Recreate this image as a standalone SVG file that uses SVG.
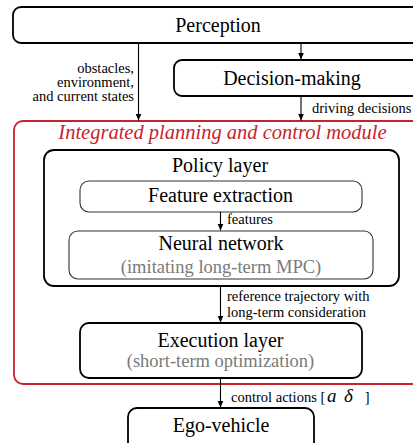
<svg xmlns="http://www.w3.org/2000/svg" width="413" height="443" viewBox="0 0 413 443">
<style>
.box{fill:#fff;stroke:#000;stroke-width:1.8}
.inner{fill:#fff;stroke:#333;stroke-width:1.1}
text{font-family:'Liberation Serif','DejaVu Serif','Times New Roman',serif}
.t{font-size:20px;fill:#000;text-anchor:middle}
.sub{font-size:18.5px;fill:#7a7a7a;text-anchor:middle}
.lbl{font-size:14.5px;fill:#000}
.c{stroke:#000;stroke-width:1.1;fill:none;marker-end:url(#ah)}
</style>
<defs>
<marker id="ah" markerWidth="8" markerHeight="8" refX="7" refY="3" orient="auto" markerUnits="userSpaceOnUse" viewBox="0 0 8 6">
<path d="M0,0 L7,3 L0,6 z" fill="#000"/>
</marker>
</defs>
<rect width="413" height="443" fill="#fff"/>
<g id="module">
<rect x="14" y="121" width="420" height="263" rx="9" fill="none" stroke="#c8232c" stroke-width="1.8"/>
<text x="222.5" y="139" font-family="Liberation Serif, serif" font-size="20.5" font-style="italic" fill="#c8232c" text-anchor="middle">Integrated planning and control module</text>
</g>
<g id="perception">
<rect class="box" x="13" y="7" width="420" height="36" rx="8"/>
<text class="t" font-family="Liberation Serif, serif" x="218" y="32">Perception</text>
</g>
<g id="decision">
<rect class="box" x="174" y="60" width="260" height="36" rx="8"/>
<text class="t" font-family="Liberation Serif, serif" x="292" y="85">Decision-making</text>
</g>
<g id="policy">
<rect class="box" x="44" y="150" width="355" height="136" rx="10"/>
<text class="t" font-family="Liberation Serif, serif" x="220" y="172">Policy layer</text>
</g>
<g id="feature">
<rect class="inner" x="80" y="181" width="282" height="31" rx="9"/>
<text class="t" font-family="Liberation Serif, serif" x="220.5" y="202">Feature extraction</text>
</g>
<g id="neural">
<rect class="inner" x="69" y="231" width="304" height="48" rx="9"/>
<text class="t" font-family="Liberation Serif, serif" x="221" y="250">Neural network</text>
<text class="sub" font-family="Liberation Serif, serif" x="221" y="273">(imitating long-term MPC)</text>
</g>
<g id="execution">
<rect class="box" x="80" y="323" width="282" height="55" rx="9"/>
<text class="t" font-family="Liberation Serif, serif" x="220.5" y="347">Execution layer</text>
<text class="sub" font-family="Liberation Serif, serif" x="220.5" y="367">(short-term optimization)</text>
</g>
<g id="ego">
<rect class="box" x="128" y="408" width="186" height="45" rx="9"/>
<text class="t" font-family="Liberation Serif, serif" x="221" y="432">Ego-vehicle</text>
</g>
<g id="connectors">
<line class="c" x1="138.5" y1="43" x2="138.5" y2="120.5"/>
<line class="c" x1="301" y1="43" x2="301" y2="59.5"/>
<line class="c" x1="301" y1="96" x2="301" y2="120.5"/>
<line class="c" x1="220.5" y1="212" x2="220.5" y2="230.5"/>
<line class="c" x1="220.5" y1="286" x2="220.5" y2="322.5"/>
<line class="c" x1="220.5" y1="378" x2="220.5" y2="407.5"/>
</g>
<g id="labels" font-family="Liberation Serif, serif">
<text class="lbl" font-size="14" text-anchor="end" x="134"><tspan x="134" y="73">obstacles,</tspan><tspan x="134" y="87">environment,</tspan><tspan x="134" y="101">and current states</tspan></text>
<text class="lbl" x="312" y="113">driving decisions</text>
<text class="lbl" x="227" y="224">features</text>
<text class="lbl" x="227" y="301">reference trajectory with</text>
<text class="lbl" x="227" y="317">long-term consideration</text>
<text class="lbl" x="231" y="402">control actions [<tspan x="327" font-style="italic" font-size="19">a</tspan><tspan x="344" font-style="italic" font-size="19">δ</tspan><tspan x="361"> ]</tspan></text>
</g>
</svg>
